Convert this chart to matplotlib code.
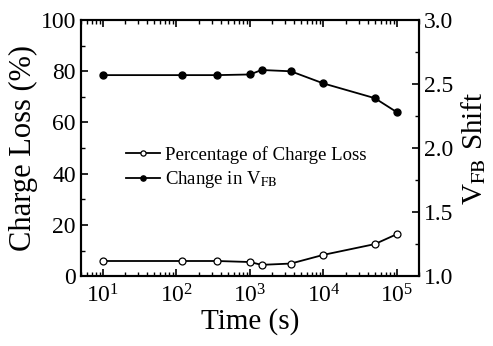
import matplotlib
matplotlib.use("Agg")
import matplotlib.pyplot as plt
from matplotlib.ticker import MultipleLocator, LogLocator, NullFormatter, FormatStrFormatter

plt.rcParams['font.family'] = ['Liberation Serif', 'DejaVu Serif']
plt.rcParams['mathtext.fontset'] = 'stix'

time_s = [10, 120, 360, 1000, 1440, 3600, 10000, 50000, 100000]
charge_loss = [5.9, 5.9, 5.9, 5.5, 4.4, 4.9, 8.3, 12.5, 16.4]
vfb_shift = [2.57, 2.57, 2.57, 2.575, 2.61, 2.60, 2.505, 2.39, 2.28]

fig = plt.figure(figsize=(4.93, 3.46), dpi=100)
ax = fig.add_axes([0.164, 0.202, 0.686, 0.740])
ax2 = ax.twinx()

l1, = ax.plot(time_s, charge_loss, '-o', color='black', mfc='white', mec='black',
              ms=5, lw=1.3, mew=0.9)
l2, = ax2.plot(time_s, vfb_shift, '-o', color='black', mfc='black', ms=5, lw=1.3)

ax.set_xscale('log')
ax.set_xlim(5, 2e5)
ax.set_ylim(0, 100)
ax2.set_ylim(1.0, 3.0)

ax.yaxis.set_major_locator(MultipleLocator(20))
ax.yaxis.set_minor_locator(MultipleLocator(10))
ax2.yaxis.set_major_locator(MultipleLocator(0.5))
ax2.yaxis.set_minor_locator(MultipleLocator(0.25))
ax2.yaxis.set_major_formatter(FormatStrFormatter('%.1f'))
ax.xaxis.set_major_locator(LogLocator(base=10, numticks=10))
ax.xaxis.set_minor_locator(LogLocator(base=10, subs=range(2, 10), numticks=20))
ax.xaxis.set_minor_formatter(NullFormatter())

ax.tick_params(axis='both', which='major', direction='in', length=5, width=1.2,
               labelsize=17, top=True)
ax.tick_params(axis='both', which='minor', direction='in', length=3, width=1, top=True)
ax.tick_params(axis='x', pad=6)
ax2.tick_params(axis='y', which='major', direction='in', length=5, width=1.2, labelsize=17)
ax2.tick_params(axis='y', which='minor', direction='in', length=3, width=1)

for a in (ax, ax2):
    for s in a.spines.values():
        s.set_linewidth(1.5)

ax.set_xlabel('Time (s)', fontsize=21, labelpad=0)
ax.set_ylabel('Charge Loss (%)', fontsize=22, labelpad=2)
ax2.set_ylabel(r'V$_{\mathrm{FB}}$ Shift', fontsize=21, labelpad=4)

leg = ax.legend([l1, l2], ['Percentage of Charge Loss', r'Change in V$_{\mathrm{FB}}$'],
                loc='upper left', bbox_to_anchor=(0.085, 0.575), frameon=False,
                fontsize=13.5, handlelength=1.8, handletextpad=0.25, labelspacing=0.3,
                markerscale=0.75)

fig.savefig('out.png', dpi=100)
